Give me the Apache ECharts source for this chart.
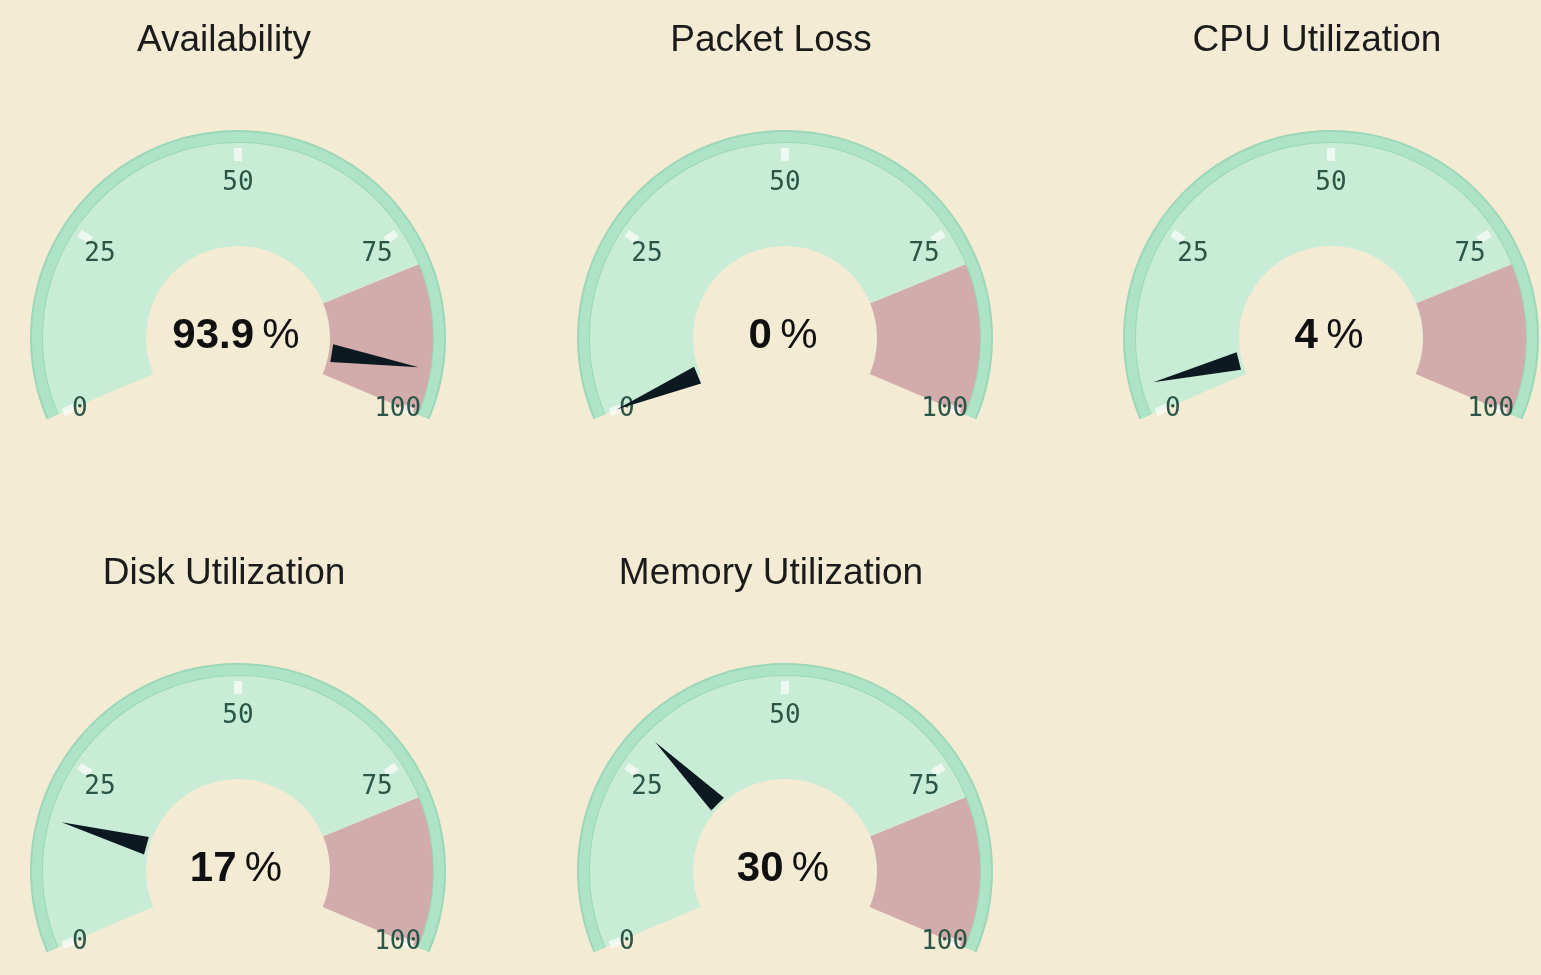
<!DOCTYPE html>
<html>
<head>
<meta charset="utf-8">
<script src="https://cdn.jsdelivr.net/npm/echarts@6.0.0/dist/echarts.min.js"></script>
<style>
  html, body { margin: 0; padding: 0; background: #f3ebd3; }
  #chart { width: 1541px; height: 975px; }
</style>
</head>
<body>
<div id="chart"></div>
<script>
// ---- data ----
const gaugeNames = ['Availability', 'Packet Loss', 'CPU Utilization', 'Disk Utilization', 'Memory Utilization'];
const gaugeValues = [93.9, 0, 4, 17, 30];
const alertStart = 80;            // start of the red zone
const scaleMin = 0;
const scaleMax = 100;
const tickLabels = [0, 25, 50, 75, 100];

// ---- layout ----
const centers = [[238, 338], [785, 338], [1331, 338], [238, 871], [785, 871]];
const START = 203, END = -23;

const labelFont = 'DejaVu Sans Mono, monospace';
const labelColor = '#2a5547';
const textFont = 'Liberation Sans, Arial, sans-serif';

function richFor(pad) {
  return { fontFamily: labelFont, fontSize: 26, lineHeight: 26, color: labelColor, padding: pad };
}
const labelRich = {
  l0: richFor([0, 0, 14, 18]),
  l25: richFor([54, 0, 0, 13]),
  l50: richFor([65, 0, 0, 0]),
  l75: richFor([54, 12, 0, 0]),
  l100: richFor([0, 1, 14, 0])
};

function base(c) {
  return {
    type: 'gauge', center: c, startAngle: START, endAngle: END,
    min: scaleMin, max: scaleMax, splitNumber: tickLabels.length - 1,
    animation: false, silent: true,
    axisTick: { show: false }, splitLine: { show: false, length: 0, distance: 0 },
    axisLabel: { show: false }, pointer: { show: false }, anchor: { show: false },
    title: { show: false }, detail: { show: false }, progress: { show: false },
    axisLine: { show: false }
  };
}

const series = [];
gaugeNames.forEach((name, i) => {
  const c = centers[i];
  // face
  series.push(Object.assign(base(c), {
    radius: 197,
    axisLine: { show: true, lineStyle: { width: 105, color: [[alertStart / scaleMax, '#c8ecd5'], [1, '#d2acab']] } },
    data: [{ value: gaugeValues[i] }]
  }));
  // rim outline
  series.push(Object.assign(base(c), {
    radius: 208,
    axisLine: { show: true, lineStyle: { width: 13, color: [[1, '#9cd7b8']] } },
    data: [{ value: gaugeValues[i] }]
  }));
  // rim + tick marks
  series.push(Object.assign(base(c), {
    radius: 206,
    axisLine: { show: true, lineStyle: { width: 10, color: [[1, '#ade3c7']] } },
    splitLine: { show: true, length: 13, distance: 6, lineStyle: { width: 8, color: 'rgba(255,255,255,0.65)' } },
    data: [{ value: gaugeValues[i] }]
  }));
  // tick labels
  series.push(Object.assign(base(c), {
    radius: 200,
    axisLabel: {
      show: true, distance: 0,
      formatter: v => (tickLabels.indexOf(v) >= 0 ? '{l' + v + '|' + v + '}' : ''),
      rich: labelRich
    },
    data: [{ value: gaugeValues[i] }]
  }));
  // pointer, value and title
  series.push(Object.assign(base(c), {
    radius: 207,
    pointer: {
      show: true, icon: 'path://M5 0 L10 100 L0 100 Z',
      length: 88, width: 18, offsetCenter: [0, -95],
      itemStyle: { color: '#0c1921' }
    },
    title: {
      show: true, offsetCenter: [-14, -297],
      fontSize: 37, fontFamily: textFont, color: '#1b1b1b', fontWeight: 'normal'
    },
    detail: {
      show: true, offsetCenter: [-2, -2],
      formatter: v => '{n|' + v + '} {p|%}',
      rich: {
        n: { fontSize: 42, fontWeight: 'bold', fontFamily: textFont, color: '#101010' },
        p: { fontSize: 42, fontWeight: 'normal', fontFamily: textFont, color: '#101010' }
      }
    },
    data: [{ value: gaugeValues[i], name: name }]
  }));
});

const chart = echarts.init(document.getElementById('chart'), null, { renderer: 'canvas' });
chart.setOption({ backgroundColor: '#f3ebd3', series: series });
</script>
</body>
</html>
